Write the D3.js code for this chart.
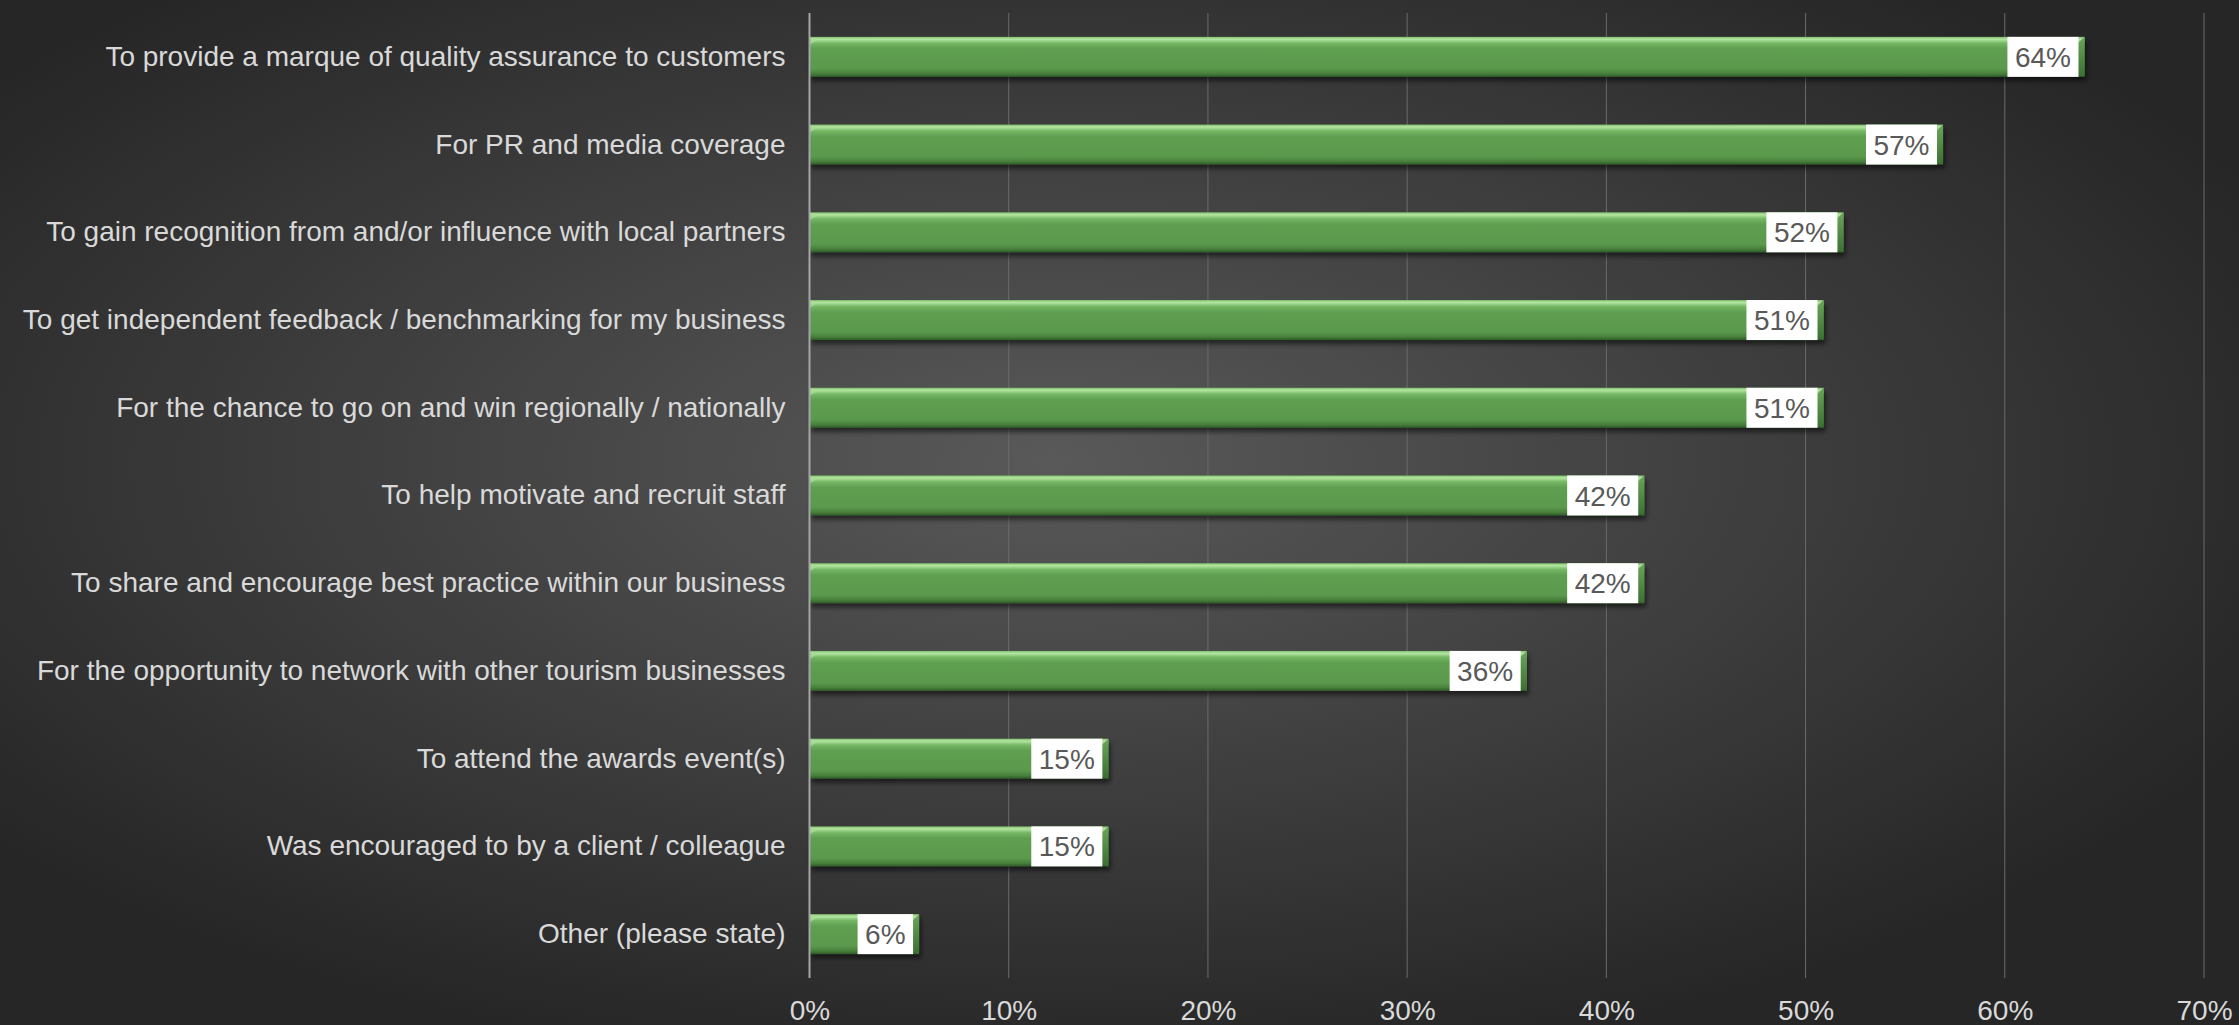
<!DOCTYPE html>
<html>
<head>
<meta charset="utf-8">
<script src="https://cdn.jsdelivr.net/npm/d3@7"></script>
<style>
  html, body { margin: 0; padding: 0; background: #2a2a2a; overflow: hidden; }
  text { font-family: "Liberation Sans", Arial, sans-serif; }
</style>
</head>
<body>
<div id="canvas"></div>
<script>
const categories = [
  "To provide a marque of quality assurance to customers",
  "For PR and media coverage",
  "To gain recognition from and/or influence with local partners",
  "To get independent feedback / benchmarking for my business",
  "For the chance to go on and win regionally / nationally",
  "To help motivate and recruit staff",
  "To share and encourage best practice within our business",
  "For the opportunity to network with other tourism businesses",
  "To attend the awards event(s)",
  "Was encouraged to by a client / colleague",
  "Other (please state)"
];
const values = [64, 56.9, 51.9, 50.9, 50.9, 41.9, 41.9, 36, 15, 15, 5.5];
const ticks = [0, 10, 20, 30, 40, 50, 60, 70];

const w = 2239;
const h = 1025;
const margin = {
  top: 13,
  bottom: 47,
  left: 809.5,
  right: 35
}

function render(){
  const width = w - (margin.left + margin.right);
  const height = h - (margin.top + margin.bottom);

  const svg = d3.select("#canvas")
                .append("svg")
                .attr("width", w)
                .attr("height", h)

  const defs = svg.append("defs")

  // background, lighter in the middle
  const bg = defs.append("radialGradient")
      .attr("id", "bg")
      .attr("cx", 0.47).attr("cy", 0.45).attr("r", 0.6)
  bg.append("stop").attr("offset", "0%").attr("stop-color", "#595959")
  bg.append("stop").attr("offset", "100%").attr("stop-color", "#262626")

  // bar bevel look
  const barGrad = defs.append("linearGradient")
      .attr("id", "barGrad")
      .attr("x1", 0).attr("y1", 0).attr("x2", 0).attr("y2", 1)
  const barStops = [
    [0, "#7fbf6c"], [0.06, "#b4e6a2"], [0.16, "#75b764"], [0.3, "#5f9f51"],
    [0.8, "#5a994c"], [0.92, "#487f3c"], [1, "#2f5a28"]
  ];
  barStops.forEach(s => barGrad.append("stop").attr("offset", s[0]).attr("stop-color", s[1]))

  const endGrad = defs.append("linearGradient")
      .attr("id", "endGrad")
      .attr("x1", 0).attr("y1", 0).attr("x2", 0).attr("y2", 1)
  endGrad.append("stop").attr("offset", 0).attr("stop-color", "#6aa65a")
  endGrad.append("stop").attr("offset", 1).attr("stop-color", "#3b6f31")

  const shadow = defs.append("filter")
      .attr("id", "shadow")
      .attr("x", "-5%").attr("y", "-20%").attr("width", "115%").attr("height", "160%")
  shadow.append("feDropShadow")
      .attr("dx", 2).attr("dy", 4).attr("stdDeviation", 2.5)
      .attr("flood-color", "#000").attr("flood-opacity", 0.55)

  svg.append("rect")
      .attr("width", w)
      .attr("height", h)
      .attr("fill", "url(#bg)")

  const x = d3.scaleLinear()
      .domain([0, 70])
      .range([0, 1394.5])

  const y = d3.scaleBand()
      .domain(categories)
      .range([0, height])
      .padding(0)

  const barH = 40;

  const g = svg.append("g")
      .attr("transform", `translate(${margin.left},${margin.top})`)

  // gridlines
  g.selectAll(".grid")
      .data(ticks.slice(1))
      .enter()
      .append("line")
      .attr("class", "grid")
      .attr("x1", d => x(d)).attr("x2", d => x(d))
      .attr("y1", 0).attr("y2", height)
      .attr("stroke", "#6b6b6b")
      .attr("stroke-width", 1)

  // x axis labels
  const xAxis = d3.axisBottom(x)
      .tickValues(ticks)
      .tickFormat(d => d + "%")
      .tickSize(0)
      .tickPadding(22)
  const ax = g.append("g")
      .attr("transform", `translate(0,${height})`)
      .call(xAxis)
  ax.select(".domain").remove()
  ax.selectAll("text")
      .attr("fill", "#d9d9d9")
      .attr("font-size", 28)
      .attr("font-family", "Liberation Sans, Arial, sans-serif")

  // category labels
  const yAxis = d3.axisLeft(y)
      .tickSize(0)
      .tickPadding(24)
  const ay = g.append("g").call(yAxis)
  ay.select(".domain").remove()
  ay.selectAll("text")
      .attr("fill", "#d9d9d9")
      .attr("font-size", 28)
      .attr("font-family", "Liberation Sans, Arial, sans-serif")

  const rows = categories.map((c, i) => ({ name: c, value: values[i] }))

  const bars = g.selectAll(".bar")
      .data(rows)
      .enter()
      .append("g")
      .attr("class", "bar")
      .attr("transform", d => `translate(0,${y(d.name) + y.bandwidth() / 2 - barH / 2})`)

  bars.append("rect")
      .attr("x", 0)
      .attr("y", 0)
      .attr("width", d => x(d.value))
      .attr("height", barH)
      .attr("fill", "url(#barGrad)")
      .attr("filter", "url(#shadow)")

  // right end bevel
  bars.append("path")
      .attr("d", d => {
        const e = x(d.value);
        return `M${e - 6},6 L${e},0 L${e},${barH} L${e - 6},${barH - 3} Z`;
      })
      .attr("fill", "url(#endGrad)")

  // left top bevel
  bars.append("path")
      .attr("d", "M0,0 L8,3 L0,8 Z")
      .attr("fill", "#a9dc96")
      .attr("opacity", 0.8)

  // data labels
  const fmt = v => Math.round(v) + "%";
  bars.each(function(d){
    const grp = d3.select(this);
    const t = grp.append("text")
        .attr("text-anchor", "middle")
        .attr("font-size", 28)
        .attr("fill", "#595959")
        .attr("y", barH / 2)
        .attr("dy", "0.36em")
        .text(fmt(d.value));
    const tw = t.node().getComputedTextLength();
    const bw = tw + 15;
    const right = x(d.value) - 6;
    grp.insert("rect", "text")
        .attr("x", right - bw)
        .attr("y", 0)
        .attr("width", bw)
        .attr("height", barH)
        .attr("fill", "#ffffff");
    t.attr("x", right - bw / 2);
  });

  // zero axis line
  g.append("line")
      .attr("x1", 0).attr("x2", 0)
      .attr("y1", 0).attr("y2", height)
      .attr("stroke", "#a6a6a6")
      .attr("stroke-width", 2)
}

render()
</script>
</body>
</html>
